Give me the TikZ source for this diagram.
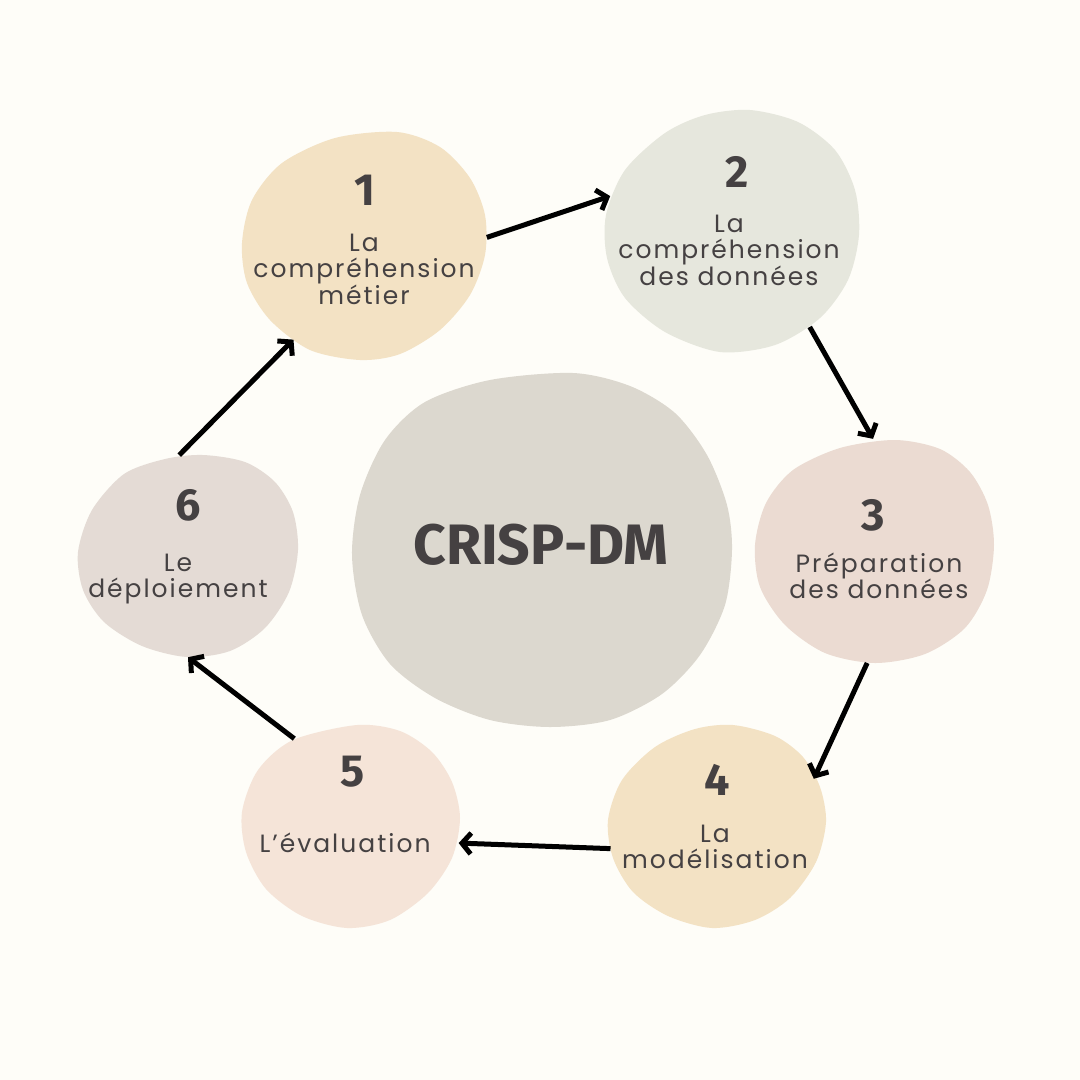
\documentclass[tikz,border=0pt]{standalone}
\usepackage{fontspec}
\newfontfamily\labelfont{Poppins}[LetterSpace=8]
\newfontfamily\numfont{Fira Sans}
\definecolor{paper}{HTML}{FEFDF8}
\definecolor{ink}{HTML}{454142}
\definecolor{sand}{HTML}{F3E2C4}
\definecolor{sage}{HTML}{E6E7DD}
\definecolor{blush}{HTML}{EBDBD2}
\definecolor{peach}{HTML}{F5E4D8}
\definecolor{taupe}{HTML}{E4DBD5}
\definecolor{stone}{HTML}{DCD8CF}
\usetikzlibrary{shapes,arrows.meta}

\begin{document}
\begin{tikzpicture}[x=1pt,y=-1pt,
        num/.style={font=\numfont\bfseries\fontsize{45}{45}\selectfont,text=ink},
        lbl/.style={font=\labelfont\fontsize{25}{26.5}\selectfont,text=ink,align=center},
        zone/.style={ellipse,inner sep=0pt},
        link/.style={-{Straight Barb[length=9pt,width=21pt]},line width=5pt}]
        \fill[paper] (0,0) rectangle (1080,1080);
        % blobs
        \fill[sand] plot[smooth cycle] coordinates {(397,132) (440,147) (470,178) (485,215) (485,255) (470,295) (440,330) (400,354) (360,360) (310,350) (270,320) (247,283) (242,243) (252,200) (282,163) (335,138)};
        \fill[sage] plot[smooth cycle] coordinates {(750,110) (798,122) (835,150) (855,190) (859,235) (848,280) (820,318) (775,345) (720,352) (665,332) (625,298) (607,258) (606,215) (625,170) (665,133) (705,115)};
        \fill[blush] plot[smooth cycle] coordinates {(895,440) (940,449) (970,472) (988,505) (994,545) (987,590) (965,628) (925,654) (875,663) (825,653) (785,625) (760,587) (755,545) (766,503) (793,470) (840,448)};
        \fill[sand] plot[smooth cycle] coordinates {(733,725) (775,736) (803,757) (820,787) (826,822) (816,862) (790,898) (755,920) (712,928) (668,916) (633,892) (613,858) (608,820) (622,780) (655,747) (695,729)};
        \fill[peach] plot[smooth cycle] coordinates {(357,725) (400,731) (432,752) (452,782) (460,818) (452,858) (428,893) (390,920) (347,928) (302,916) (266,889) (246,852) (242,812) (258,770) (293,740)};
        \fill[taupe] plot[smooth cycle] coordinates {(203,455) (245,462) (275,482) (293,512) (298,550) (289,592) (265,628) (230,651) (187,657) (142,646) (104,622) (83,590) (78,552) (92,510) (124,474) (165,459)};
        \fill[stone] plot[smooth cycle] coordinates {(573,373) (630,386) (675,413) (707,455) (727,505) (732,550) (725,605) (700,655) (662,694) (610,720) (550,727) (490,720) (435,698) (390,664) (362,615) (352,555) (360,495) (385,440) (425,402) (490,380)};
        % zones
        \node[zone,minimum width=246pt,minimum height=228pt] (b1) at (364,246) {};
        \node[zone,minimum width=254pt,minimum height=242pt] (b2) at (732,231) {};
        \node[zone,minimum width=240pt,minimum height=224pt] (b3) at (875,551) {};
        \node[zone,minimum width=218pt,minimum height=204pt] (b4) at (717,826) {};
        \node[zone,minimum width=218pt,minimum height=204pt] (b5) at (351,826) {};
        \node[zone,minimum width=220pt,minimum height=202pt] (b6) at (188,556) {};
        % texts
        \node[num] (n1) at (365,190) {1};
        \node[lbl] (t1) at (364,269) {La\\compréhension\\métier};
        \node[num] (n2) at (737,172) {2};
        \node[lbl] (t2) at (729,250) {La\\compréhension\\des données};
        \node[num] (n3) at (873,515) {3};
        \node[lbl] (t3) at (879,576) {Préparation\\des données};
        \node[num] (n4) at (717,780) {4};
        \node[lbl] (t4) at (715,847) {La\\modélisation};
        \node[num] (n5) at (353,772) {5};
        \node[lbl] (t5) at (345,843) {L’évaluation};
        \node[num] (n6) at (188,505) {6};
        \node[lbl] (t6) at (178,579) {Le\\déploiement};
        \node[text=ink,font=\numfont\bfseries\fontsize{57}{57}\selectfont] (dm) at (541,545) {CRISP-DM};
        % cycle
        \draw[link] (b1.4) -- (b2.164);
        \draw[link] (b2.309) -- (b3.91);
        \draw[link] (b3.266) -- (b4.26);
        \draw[link] (b4.192) -- (b5.351);
        \draw[link] (b5.123) -- (b6.270);
        \draw[link] (b6.95) -- (b1.233);
\end{tikzpicture}
\end{document}
